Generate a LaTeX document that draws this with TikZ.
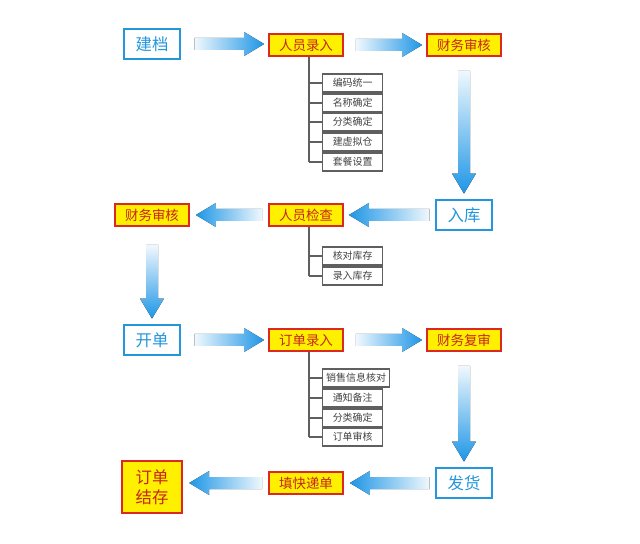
\documentclass[tikz,border=0pt]{standalone}
\usepackage{fontspec}
\setmainfont{Noto Sans CJK SC}
\usetikzlibrary{calc}
\definecolor{boxblue}{RGB}{35,150,220}
\definecolor{flowblue}{RGB}{30,150,230}
\definecolor{flowlight}{RGB}{240,248,253}
\definecolor{stepyellow}{RGB}{255,240,0}
\definecolor{stepred}{RGB}{220,40,30}
\definecolor{subgray}{RGB}{95,95,95}
\newcommand\rflow[2]{\fill[left color=flowlight,right color=flowblue] let \p1=(#1),\p2=(#2) in
  (\x1,\y1+0.18cm) -- (\x2-0.6cm,\y1+0.18cm) -- (\x2-0.6cm,\y1+0.36cm) -- (\x2,\y1) -- (\x2-0.6cm,\y1-0.36cm) -- (\x2-0.6cm,\y1-0.18cm) -- (\x1,\y1-0.18cm) -- cycle;}
\newcommand\lflow[2]{\fill[left color=flowblue,right color=flowlight] let \p1=(#1),\p2=(#2) in
  (\x1,\y1+0.18cm) -- (\x2+0.6cm,\y1+0.18cm) -- (\x2+0.6cm,\y1+0.36cm) -- (\x2,\y1) -- (\x2+0.6cm,\y1-0.36cm) -- (\x2+0.6cm,\y1-0.18cm) -- (\x1,\y1-0.18cm) -- cycle;}
\newcommand\dflow[2]{\fill[top color=flowlight,bottom color=flowblue] let \p1=(#1),\p2=(#2) in
  (\x1+0.18cm,\y1) -- (\x1+0.18cm,\y2+0.6cm) -- (\x1+0.36cm,\y2+0.6cm) -- (\x1,\y2) -- (\x1-0.36cm,\y2+0.6cm) -- (\x1-0.18cm,\y2+0.6cm) -- (\x1-0.18cm,\y1) -- cycle;}
\tikzset{
  bluebox/.style={draw=boxblue,line width=2.5pt,fill=white,text=boxblue,minimum width=1.68cm,minimum height=0.9cm,font=\fontsize{14}{16}\selectfont},
  stepbox/.style={draw=stepred,line width=1.5pt,fill=stepyellow,text=stepred!90!black,minimum width=2.22cm,minimum height=0.66cm,inner sep=1pt,font=\fontsize{11.5}{13}\selectfont},
  subbox/.style={draw=subgray,line width=1.2pt,fill=white,text=subgray!70!black,anchor=west,minimum width=1.8cm,minimum height=0.54cm,inner sep=3pt,font=\fontsize{8.5}{10}\selectfont},
  tree/.style={draw=subgray,line width=1pt}
}
\begin{document}
\begin{tikzpicture}[x=0.03cm,y=-0.03cm]
\useasboundingbox (0,0) rectangle (640,544);
% first row
\node[bluebox] (jd) at (152,44) {建档};
\node[stepbox] (rylr) at (306,45) {人员录入};
\node[stepbox] (cwsh1) at (464,45) {财务审核};
\foreach \t/\y [count=\i] in {编码统一/83,名称确定/103,分类确定/122,建虚拟仓/142,套餐设置/162}
  \node[subbox] (a\i) at (322,\y) {\t};
\draw[tree] (rylr.south -| 309,0) -- (309,162);
\foreach \i in {1,...,5} \draw[tree] (a\i.west) -- (a\i.west -| 309,0);
\rflow{$(jd.east)+(13,0)$}{$(rylr.west)+(-4,0)$}
\rflow{$(rylr.east)+(12,0)$}{$(cwsh1.west)+(-4,0)$}
% second row
\node[bluebox] (rk) at (464,215) {入库};
\node[stepbox] (ryjc) at (306,215) {人员检查};
\node[stepbox] (cwsh2) at (152,215) {财务审核};
\foreach \t/\y [count=\i] in {核对库存/256,录入库存/276}
  \node[subbox] (b\i) at (322,\y) {\t};
\draw[tree] (ryjc.south -| 309,0) -- (309,276);
\foreach \i in {1,2} \draw[tree] (b\i.west) -- (b\i.west -| 309,0);
\dflow{$(cwsh1.south)+(0,14)$}{$(rk.north)+(0,-5)$}
\lflow{$(rk.west)+(-5,0)$}{$(ryjc.east)+(5,0)$}
\lflow{$(ryjc.west)+(-6,0)$}{$(cwsh2.east)+(6,0)$}
% third row
\node[bluebox] (kd) at (152,340) {开单};
\node[stepbox] (ddlr) at (306,340) {订单录入};
\node[stepbox] (cwfs) at (464,340) {财务复审};
\foreach \t/\y [count=\i] in {销售信息核对/378,通知备注/398,分类确定/418,订单审核/437}
  \node[subbox] (c\i) at (322,\y) {\t};
\draw[tree] (ddlr.south -| 309,0) -- (309,437);
\foreach \i in {1,...,4} \draw[tree] (c\i.west) -- (c\i.west -| 309,0);
\dflow{$(cwsh2.south)+(0,18)$}{$(kd.north)+(0,-5)$}
\rflow{$(kd.east)+(13,0)$}{$(ddlr.west)+(-4,0)$}
\rflow{$(ddlr.east)+(12,0)$}{$(cwfs.west)+(-4,0)$}
% fourth row
\node[bluebox] (fh) at (464,483) {发货};
\node[stepbox] (tkdd) at (306,483) {填快递单};
\node[stepbox,line width=2pt,minimum width=1.8cm,minimum height=1.56cm,align=center,font=\fontsize{14}{17}\selectfont] (ddjc) at (152,487) {订单\\结存};
\dflow{$(cwfs.south)+(0,14)$}{$(fh.north)+(0,-5)$}
\lflow{$(fh.west)+(-5,0)$}{$(tkdd.east)+(6,0)$}
\lflow{$(tkdd.west)+(-6,0)$}{$(ddjc.east)+(6,0)$}
\end{tikzpicture}
\end{document}
